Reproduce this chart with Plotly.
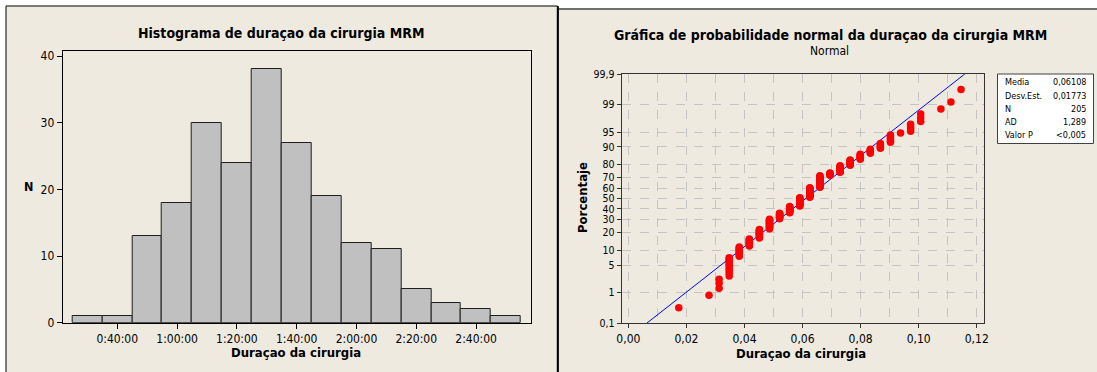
import plotly.graph_objects as go
from statistics import NormalDist

W, H = 1097, 372

# ---------------- Data: histogram (left) ----------------
hist_centers_min = [30, 40, 50, 60, 70, 80, 90, 100, 110, 120, 130, 140, 150, 160, 170]
hist_counts = [1, 1, 13, 18, 30, 24, 38, 27, 19, 12, 11, 5, 3, 2, 1]
hist_bin_width_min = 10
hist_tickvals_min = [40, 60, 80, 100, 120, 140, 160]
hist_ticktext = ["0:40:00", "1:00:00", "1:20:00", "1:40:00", "2:00:00", "2:20:00", "2:40:00"]
hist_yticks = [0, 10, 20, 30, 40]

# ---------------- Data: normal probability plot (right) ----------------
dur_minutes = [25, 40, 45, 50, 55, 60, 65, 70, 75, 80, 85, 90, 95, 100, 105, 110,
               115, 120, 125, 130, 135, 140, 145, 155, 160, 165]
dur_counts = [1, 1, 3, 10, 9, 9, 13, 17, 11, 13, 18, 20, 22, 5, 11, 8,
              7, 5, 5, 6, 1, 4, 3, 1, 1, 1]
fit_mean = 0.06108
fit_sd = 0.01773
prob_tick_pct = [0.1, 1, 5, 10, 20, 30, 40, 50, 60, 70, 80, 90, 95, 99, 99.9]
prob_ticktext = ["0,1", "1", "5", "10", "20", "30", "40", "50", "60", "70", "80", "90", "95", "99", "99,9"]
prob_xtickvals = [0.00, 0.02, 0.04, 0.06, 0.08, 0.10, 0.12]
prob_xticktext = ["0,00", "0,02", "0,04", "0,06", "0,08", "0,10", "0,12"]
stats_labels = ["Media", "Desv.Est.", "N", "AD", "Valor P"]
stats_values = ["0,06108", "0,01773", "205", "1,289", "<0,005"]

# ---------------- Derived (probability scale) ----------------
nd = NormalDist()
sample_days = []
for m, c in zip(dur_minutes, dur_counts):
    sample_days += [m / 1440.0] * c
sample_days.sort()
n = len(sample_days)
sample_z = [nd.inv_cdf((i - 0.3) / (n + 0.4)) for i in range(1, n + 1)]
z_lo, z_hi = nd.inv_cdf(0.001), nd.inv_cdf(0.999)
prob_tickz = [nd.inv_cdf(p / 100.0) for p in prob_tick_pct]
line_x = [fit_mean + z_lo * fit_sd, fit_mean + z_hi * fit_sd]
line_z = [z_lo, z_hi]

FONT = "DejaVu Sans Condensed, DejaVu Sans, sans-serif"
BG = "#EEEAE0"


def px(x):
    return x / W


def py(y):
    return 1 - y / H


fig = go.Figure()

fig.add_trace(go.Bar(
    x=hist_centers_min, y=hist_counts, width=hist_bin_width_min,
    marker=dict(color="#C0C0C0", line=dict(color="#1e1e1e", width=1)),
    xaxis="x", yaxis="y", showlegend=False, hoverinfo="x+y"))

fig.add_trace(go.Scatter(
    x=line_x, y=line_z, mode="lines", line=dict(color="#0000FF", width=1),
    xaxis="x2", yaxis="y2", showlegend=False, hoverinfo="skip"))

fig.add_trace(go.Scatter(
    x=sample_days, y=sample_z, mode="markers",
    marker=dict(color="#FF0000", size=7.5, line=dict(width=0)),
    xaxis="x2", yaxis="y2", showlegend=False))

axis_font = dict(family=FONT, size=12, color="#000000")
grid_kw = dict(showgrid=True, gridcolor="#C4C4C4", griddash="dash", gridwidth=1)

fig.update_layout(
    width=W, height=H,
    margin=dict(l=0, r=0, t=0, b=0, pad=0, autoexpand=False),
    paper_bgcolor="#FFFFFF",
    plot_bgcolor="#FFFFFF",
    bargap=0,
    font=dict(family=FONT, size=12, color="#000000"),
    xaxis=dict(
        domain=[px(62.7), px(531.4)], range=[21.74, 178.5],
        tickmode="array", tickvals=hist_tickvals_min, ticktext=hist_ticktext,
        ticks="outside", ticklen=5, tickcolor="#000000",
        showline=True, linecolor="#000000", linewidth=1, mirror=True,
        showgrid=False, zeroline=False, tickfont=axis_font, anchor="y"),
    yaxis=dict(
        domain=[py(322.7), py(51)], range=[0, 40.75],
        tickmode="array", tickvals=hist_yticks,
        ticks="outside", ticklen=5, tickcolor="#000000",
        showline=True, linecolor="#000000", linewidth=1, mirror=True,
        showgrid=False, zeroline=False, tickfont=axis_font, anchor="x"),
    xaxis2=dict(
        domain=[px(621.7), px(984)], range=[-0.0023, 0.1225],
        tickmode="array", tickvals=prob_xtickvals, ticktext=prob_xticktext,
        ticks="outside", ticklen=4, tickcolor="#333333",
        showline=True, linecolor="#333333", linewidth=1, mirror=True,
        zeroline=False, tickfont=dict(family=FONT, size=12, color="#000"),
        minor=dict(dtick=0.01, tick0=0, showgrid=True, gridcolor="#C4C4C4", griddash="dash"),
        anchor="y2", **grid_kw),
    yaxis2=dict(
        domain=[py(323.3), py(74)], range=[z_lo, z_hi],
        tickmode="array", tickvals=prob_tickz, ticktext=prob_ticktext,
        ticks="outside", ticklen=4, tickcolor="#333333",
        showline=True, linecolor="#333333", linewidth=1, mirror=True,
        zeroline=False, tickfont=dict(family=FONT, size=10.5, color="#000"),
        anchor="x2", **grid_kw),
)

shapes = [
    # left panel
    dict(type="rect", xref="paper", yref="paper", x0=px(6), x1=px(557.5), y0=py(380), y1=py(6),
         fillcolor=BG, line=dict(color="#000000", width=1), layer="below"),
    # right panel
    dict(type="rect", xref="paper", yref="paper", x0=px(558), x1=px(1105), y0=py(380), y1=py(9),
         fillcolor=BG, line=dict(color="#707070", width=2), layer="below"),
    dict(type="line", xref="paper", yref="paper", x0=px(557.8), x1=px(557.8), y0=py(380), y1=py(6),
         line=dict(color="#000000", width=2)),
    # stats box
    dict(type="rect", xref="paper", yref="paper", x0=px(997.5), x1=px(1093.5), y0=py(143.5), y1=py(74),
         fillcolor="#FFFFFF", line=dict(color="#404040", width=1)),
]

annotations = []


def ann(text, x, y, size, xanchor="center", textangle=0, color="#000000"):
    annotations.append(dict(text=text, x=px(x), y=py(y), xref="paper", yref="paper",
                            showarrow=False, xanchor=xanchor, yanchor="middle",
                            textangle=textangle, font=dict(family=FONT, size=size, color=color)))


ann("<b>Histograma de duraçao da cirurgia MRM</b>", 280.6, 33.3, 14)
ann("<b>Duraçao da cirurgia</b>", 295.6, 352.5, 13)
ann("<b>N</b>", 28, 186.7, 12.5)

ann("<b>Gráfica de probabilidade normal da duraçao da cirurgia MRM</b>", 830.5, 35, 14)
ann("Normal", 829, 50.7, 12)
ann("<b>Duraçao da cirurgia</b>", 801, 353, 13)
ann("<b>Porcentaje</b>", 582, 198, 13, textangle=-90)

row_y = [82.3, 95.6, 108.8, 122.1, 135.3]
for lab, val, yy in zip(stats_labels, stats_values, row_y):
    ann(lab, 1002.5, yy, 9, xanchor="left")
    ann(val, 1087.5, yy, 9, xanchor="right")

fig.update_layout(shapes=shapes, annotations=annotations)

fig.write_html("out.html")
